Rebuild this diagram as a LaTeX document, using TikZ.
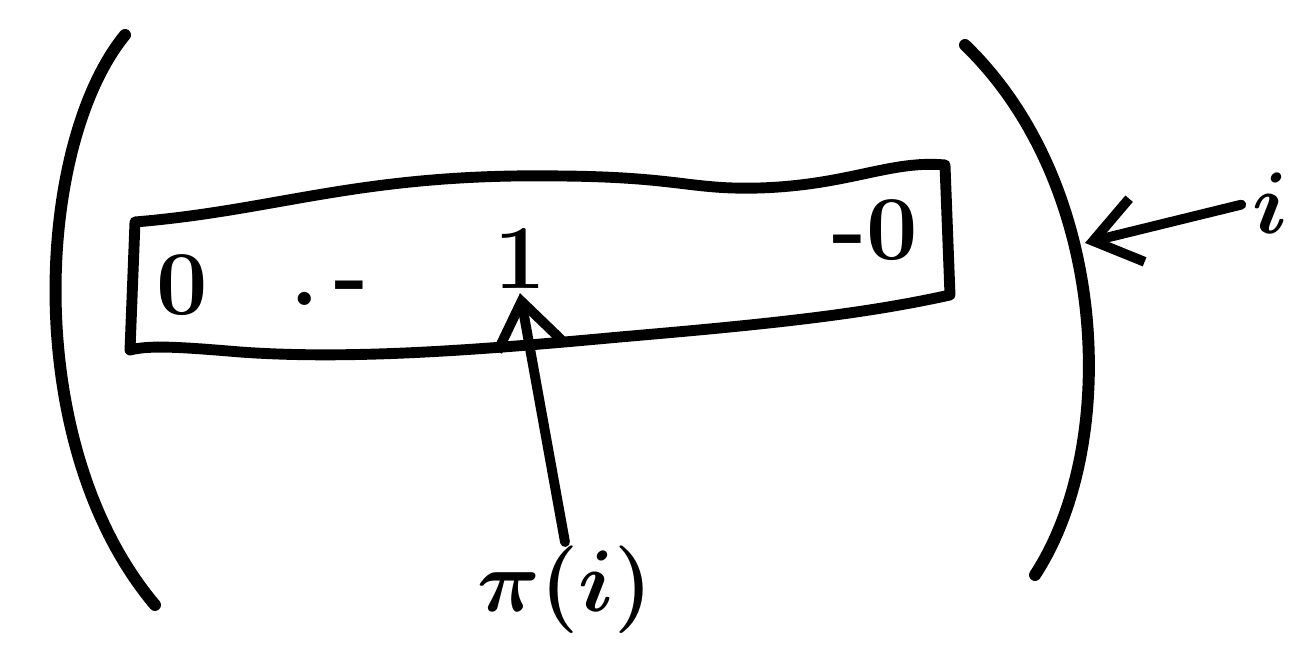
\documentclass[tikz,border=0pt]{standalone}
\usepackage{amsmath,amssymb}
\usepackage{tikz}
\usetikzlibrary{
  arrows.meta,
  positioning,
  calc
}
\tikzset{
  pen/.style={
    line width=3.4pt, line cap=round, line join=round, draw=black
  },
  penBox/.style={
    pen, line width=3.1pt
  },
  penArrow/.style={
    pen, line width=2.8pt, -{Straight Barb[length=4.5mm, width=6.5mm]}
  },
  entry/.style={
    inner sep=1pt, font=\fontsize{26}{30}\selectfont\bfseries
  },
  label/.style={
    inner sep=1pt, font=\fontsize{30}{34}\selectfont\boldmath
  }
}

\begin{document}
\begin{tikzpicture}
  \useasboundingbox (0,0) rectangle (13.07,6.45);

  \draw[pen] (1.25,6.10) .. controls (0.35,5.0) and (0.20,2.0) .. (1.55,0.40);
  \draw[pen] (9.65,6.00) .. controls (11.1,4.6) and (11.2,2.0) .. (10.35,0.70);
  \coordinate (parenR) at (10.85,4.02);

  \draw[penBox] (1.35,4.23) .. controls (2.8,4.35) and (3.6,4.72) .. (5.6,4.69)
    .. controls (6.8,4.68) and (6.9,4.55) .. (7.6,4.57)
    .. controls (8.5,4.60) and (8.9,4.85) .. (9.45,4.80)
    -- (9.50,3.50)
    .. controls (8.6,3.30) and (7.6,3.20) .. (6.2,3.08)
    .. controls (4.8,2.95) and (3.5,2.85) .. (2.4,2.93)
    .. controls (1.8,2.98) and (1.5,3.00) .. (1.30,2.95) -- cycle;

  \node[entry] (zeroL) at (1.82,3.60) {0};
  \node[entry] (dotsL) at (3.30,3.52) {.\,-};
  \node[entry] (one) at (5.20,3.86) {1};
  \node[entry] (zeroR) at (8.75,4.15) {-0};

  \node[label] (piLabel) at (5.65,0.55) {$\pi(i)$};
  \node[label] (iLabel) at (12.70,4.42) {$i$};

  \draw[penArrow] (piLabel.north) -- (one.south);
  \draw[penArrow, shorten <=2pt] (iLabel.west) -- (parenR);
\end{tikzpicture}
\end{document}
